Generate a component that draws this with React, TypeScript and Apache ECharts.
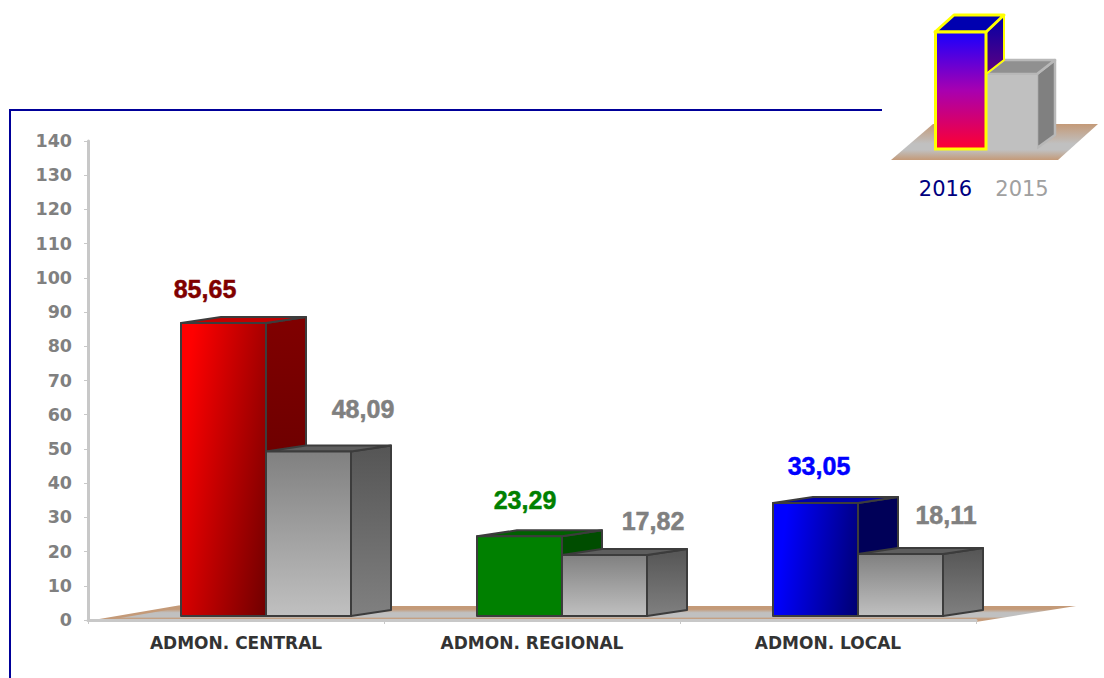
import React, { useEffect, useRef } from "react";
import * as echarts from "echarts";

const categories = ["ADMON. CENTRAL", "ADMON. REGIONAL", "ADMON. LOCAL"];
const values2016 = [85.65, 23.29, 33.05];
const values2015 = [48.09, 17.82, 18.11];
const yTicks = { min: 0, max: 140, interval: 10 };
const legendLabels = ["2016", "2015"];

const W = 1104;
const H = 678;
const LEFT = 88;
const RIGHT = 976;
const TOP = 141;
const BOTTOM = 620;
const BAR_W = 85;
const DX = 40;
const DY = 6;
const BASE_UP = 4;
const BAR_SHIFT = 30;

const grad = (x2: number, y2: number, stops: [number, string][]) => ({
  type: "linear", x: 0, y: 0, x2, y2,
  colorStops: stops.map(([offset, color]) => ({ offset, color })),
});
const v = (stops: [number, string][]) => grad(0, 1, stops);

const palette2016 = [
  { front: grad(1.19, 0.64, [[0, "#ff0000"], [0.1, "#ff0000"], [1, "#700000"]]), top: "#c00000", side: v([[0, "#800000"], [1, "#5a0000"]]), label: "#800000" },
  { front: "#008000", top: "#006000", side: "#004d00", label: "#008000" },
  { front: grad(1.14, 0.2, [[0, "#0000ff"], [0.15, "#0000ff"], [1, "#000070"]]), top: "#0000a8", side: "#000058", label: "#0000ff" },
];
const palette2015 = {
  front: v([[0, "#808080"], [1, "#c0c0c0"]]),
  top: "#5e5e5e",
  side: v([[0, "#555555"], [1, "#808080"]]),
  label: "#808080",
};
// Hand-placed label offsets from each bar's top-left corner [x centre, y centre]
const labelOffsets2016 = [[24, -33.5], [48, -36], [46, -37]];
const labelOffsets2015 = [[97, -42], [91, -34], [88, -39]];

const EDGE = "#3c3c3c";

function bar3d(series: 0 | 1) {
  return (params: any, api: any) => {
    const idx = api.value(0);
    const val = api.value(1);
    const [cx, y0] = api.coord([idx, 0]);
    const [, yv] = api.coord([idx, val]);
    const x = cx + BAR_SHIFT - BAR_W + (series === 0 ? 0 : BAR_W);
    const bottom = y0 - BASE_UP;
    const top = bottom - (y0 - yv);
    const pal = series === 0 ? palette2016[idx] : palette2015;
    const off = (series === 0 ? labelOffsets2016 : labelOffsets2015)[idx];
    const line = { stroke: EDGE, lineWidth: 2, lineJoin: "round" };
    return {
      type: "group",
      children: [
        { type: "polygon", shape: { points: [[x + BAR_W, top], [x + BAR_W + DX, top - DY], [x + BAR_W + DX, bottom - DY], [x + BAR_W, bottom]] }, style: { fill: pal.side, ...line } },
        { type: "polygon", shape: { points: [[x, top], [x + DX, top - DY], [x + BAR_W + DX, top - DY], [x + BAR_W, top]] }, style: { fill: pal.top, ...line } },
        { type: "rect", shape: { x, y: top, width: BAR_W, height: bottom - top }, style: { fill: pal.front, ...line } },
        {
          type: "text",
          style: {
            x: x + off[0], y: top + off[1],
            text: val.toFixed(2).replace(".", ","),
            fill: pal.label, stroke: pal.label, lineWidth: 0.5,
            align: "center", verticalAlign: "middle",
            font: 'bold 25px "Liberation Sans", Arial, sans-serif',
          },
        },
      ],
    };
  };
}

const floorFill = v([[0, "#c49a78"], [0.2, "#c49a78"], [0.42, "#c0c0c0"], [0.68, "#c0c0c0"], [0.8, "#c49a78"], [1, "#c8a080"]]);

const legendGraphics: any[] = [
  { type: "polygon", shape: { points: [[891, 160], [933, 124], [1098, 124], [1058, 160]] }, style: { fill: v([[0, "#c49a78"], [0.55, "#c0c0c0"], [0.72, "#c0c0c0"], [1, "#c49a78"]]) } },
  // 2015 mini bar
  { type: "polygon", shape: { points: [[1037, 74], [1055, 60], [1055, 135], [1037, 148]] }, style: { fill: "#808080", stroke: "#b8b8b8", lineWidth: 2.5, lineJoin: "round" } },
  { type: "polygon", shape: { points: [[986, 74], [1004, 60], [1055, 60], [1037, 74]] }, style: { fill: "#909090", stroke: "#b8b8b8", lineWidth: 2.5, lineJoin: "round" } },
  { type: "rect", shape: { x: 986, y: 75, width: 51, height: 75 }, style: { fill: "#c0c0c0" } },
  // 2016 mini bar
  { type: "polygon", shape: { points: [[986, 32], [1004, 15], [1004, 60], [986, 74]] }, style: { fill: v([[0, "#0000a8"], [1, "#600080"]]), stroke: "#ffff00", lineWidth: 2, lineJoin: "round" } },
  { type: "polygon", shape: { points: [[935, 32], [954, 15], [1004, 15], [986, 32]] }, style: { fill: "#0000b0", stroke: "#ffff00", lineWidth: 3, lineJoin: "round" } },
  { type: "rect", shape: { x: 935.5, y: 32, width: 50.5, height: 117 }, style: { fill: v([[0, "#1800ff"], [0.5, "#a800b0"], [1, "#ff0030"]]), stroke: "#ffff00", lineWidth: 3 } },
  { type: "text", style: { x: 945.5, y: 189, text: legendLabels[0], fill: "#000080", align: "center", verticalAlign: "middle", font: '21px "DejaVu Sans", Verdana, sans-serif' } },
  { type: "text", style: { x: 1022, y: 189, text: legendLabels[1], fill: "#a0a0a0", align: "center", verticalAlign: "middle", font: '21px "DejaVu Sans", Verdana, sans-serif' } },
];

export default function App() {
  const ref = useRef<HTMLDivElement>(null);
  useEffect(() => {
    const chart = echarts.init(ref.current!, undefined, { renderer: "svg" });
    chart.setOption({
      animation: false,
      backgroundColor: "#ffffff",
      grid: { left: LEFT, right: W - RIGHT, top: TOP, bottom: H - BOTTOM, containLabel: false },
      xAxis: {
        type: "category",
        data: categories,
        axisLine: { lineStyle: { color: "#c8c8c8", width: 3 } },
        axisTick: { show: true, length: 4, lineStyle: { color: "#c8c8c8", width: 1 } },
        axisLabel: { color: "#333333", fontFamily: '"DejaVu Sans", Verdana, sans-serif', fontWeight: "bold", fontSize: 17, margin: 14 },
      },
      yAxis: {
        type: "value",
        min: yTicks.min, max: yTicks.max, interval: yTicks.interval,
        splitLine: { show: false },
        axisLine: { show: true, lineStyle: { color: "#c8c8c8", width: 3 } },
        axisTick: { show: true, length: 4, lineStyle: { color: "#c8c8c8", width: 1 } },
        axisLabel: { color: "#808080", fontFamily: '"DejaVu Sans", Verdana, sans-serif', fontWeight: "bold", fontSize: 17.5, margin: 16 },
      },
      graphic: [
        { type: "polyline", silent: true, z: 0, shape: { points: [[882, 110], [10, 110], [10, 678]] }, style: { stroke: "#000099", lineWidth: 2, fill: "none" } },
        { type: "polygon", silent: true, z: 0, shape: { points: [[98, 621], [180, 606], [1076, 606], [976, 622]] }, style: { fill: floorFill } },
        { type: "line", silent: true, z: 0, shape: { x1: 98, y1: 620.5, x2: 180, y2: 606.5 }, style: { stroke: "#c49a78", lineWidth: 2.5 } },
        ...legendGraphics.map((g) => ({ ...g, silent: true, z: 5 })),
      ],
      series: [
        { type: "custom", z: 3, renderItem: bar3d(1), encode: { x: 0, y: 1 }, data: values2015.map((val, i) => [i, val]) },
        { type: "custom", z: 2, renderItem: bar3d(0), encode: { x: 0, y: 1 }, data: values2016.map((val, i) => [i, val]) },
      ],
    });
    return () => chart.dispose();
  }, []);
  return <div ref={ref} style={{ position: "fixed", left: 0, top: 0, width: W, height: H }} />;
}
